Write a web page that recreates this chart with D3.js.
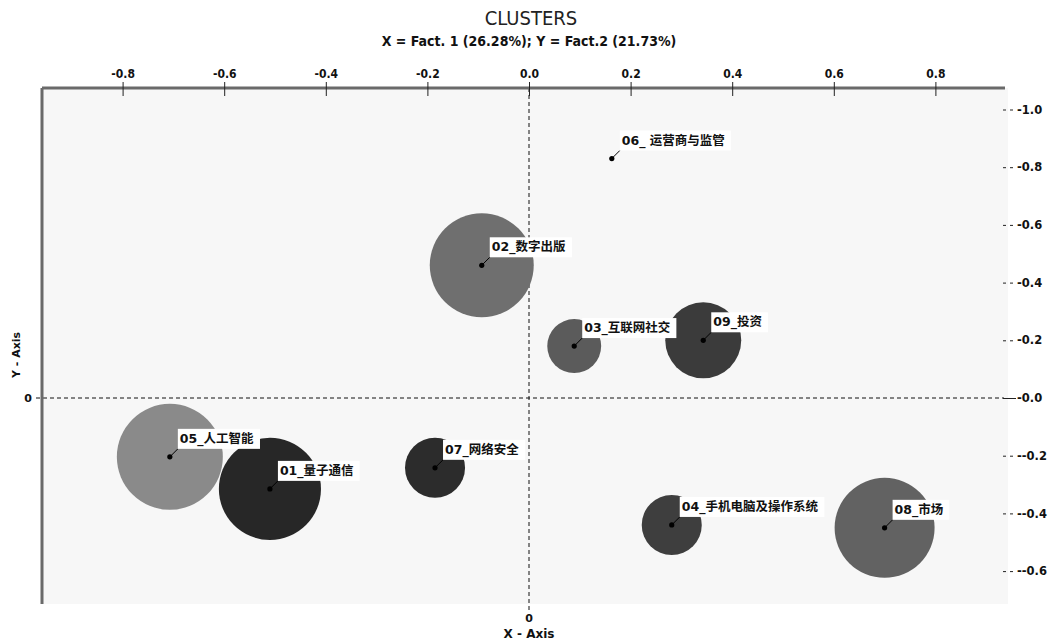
<!DOCTYPE html>
<html><head><meta charset="utf-8">
<script src="https://cdn.jsdelivr.net/npm/d3@7"></script>
<style>
body{margin:0;background:#fff;}
svg{display:block;}
</style></head>
<body>
<script>
// ---- data ----
const labels = ["01_量子通信","02_数字出版","03_互联网社交","04_手机电脑及操作系统","05_人工智能","06_ 运营商与监管","07_网络安全","08_市场","09_投资"];
const xValues = [-0.51, -0.093, 0.089, 0.281, -0.707, 0.163, -0.185, 0.700, 0.343];
const yValues = [-0.315, 0.460, 0.180, -0.440, -0.204, 0.830, -0.242, -0.450, 0.200];
const sizes   = [26.9, 27.9, 7.5, 9.3, 29, 0, 9.3, 25.8, 14.9];
const fills   = ["#272727","#6f6f6f","#5b5b5b","#3e3e3e","#8a8a8a","#000000","#2c2c2c","#626262","#3b3b3b"];
const xTicks = [-0.8,-0.6,-0.4,-0.2,0.0,0.2,0.4,0.6,0.8];
const xTickLabels = ["-0.8","-0.6","-0.4","-0.2","0.0","0.2","0.4","0.6","0.8"];
const yTicks = [1.0,0.8,0.6,0.4,0.2,0.0,-0.2,-0.4,-0.6];
const yTickLabels = ["-1.0","-0.8","-0.6","-0.4","-0.2","-0.0","--0.2","--0.4","--0.6"];
const title = "CLUSTERS";
const subtitle = "X = Fact. 1 (26.28%); Y = Fact.2 (21.73%)";

// ---- layout ----
const W = 1049, H = 644;
const x0 = 529, y0 = 398;
const x = d3.scaleLinear().domain([-1, 1]).range([x0 - 508, x0 + 508]);
const y = d3.scaleLinear().domain([-1, 1]).range([y0 + 288.5, y0 - 288.5]);
const r = d3.scaleSqrt().domain([0, 29]).range([0, 53]);
const plot = {left: 42, top: 88, right: 1008, bottom: 604};

const svg = d3.select("body").append("svg").attr("width", W).attr("height", H);
const condensed = "'DejaVu Sans Condensed','DejaVu Sans',sans-serif";
const bold = "'DejaVu Sans','Noto Sans CJK SC',sans-serif";

// background
svg.append("rect").attr("x", plot.left).attr("y", plot.top)
  .attr("width", plot.right - plot.left).attr("height", plot.bottom - plot.top)
  .attr("fill", "#f7f7f7");

// title
svg.append("text").attr("x", 531).attr("y", 25).attr("text-anchor", "middle")
  .attr("font-family", condensed).attr("font-size", 20).attr("fill", "#222").text(title);
svg.append("text").attr("x", 529).attr("y", 46).attr("text-anchor", "middle")
  .attr("font-family", condensed).attr("font-weight", "bold").attr("font-size", 14).attr("fill", "#111").text(subtitle);

// zero lines (dashed)
svg.append("line").attr("x1", 36).attr("x2", x(0.935)).attr("y1", y(0)).attr("y2", y(0))
  .attr("stroke", "#111").attr("stroke-width", 1).attr("stroke-dasharray", "4,3");
svg.append("line").attr("x1", x(0)).attr("x2", x(0)).attr("y1", plot.top).attr("y2", 613)
  .attr("stroke", "#111").attr("stroke-width", 1).attr("stroke-dasharray", "4,3");

// frame lines
svg.append("line").attr("x1", plot.left).attr("x2", 1005).attr("y1", plot.top).attr("y2", plot.top)
  .attr("stroke", "#6a6a6a").attr("stroke-width", 3);
svg.append("line").attr("x1", plot.left).attr("x2", plot.left).attr("y1", plot.top).attr("y2", plot.bottom)
  .attr("stroke", "#6a6a6a").attr("stroke-width", 3);

// top axis
const topAxis = d3.axisTop(x).tickValues(xTicks).tickSize(6)
  .tickFormat((d, i) => xTickLabels[i]);
const gTop = svg.append("g").attr("transform", `translate(0,${plot.top})`).call(topAxis);
gTop.select(".domain").remove();
gTop.selectAll(".tick line").attr("y1", 8).attr("y2", -6).attr("stroke", "#222");
gTop.selectAll(".tick text").attr("font-family", condensed).attr("font-weight", "bold")
  .attr("font-size", 12).attr("fill", "#111").attr("dy", "0").attr("y", -10);

// right axis
const rightAxis = d3.axisRight(y).tickValues(yTicks).tickSize(0)
  .tickFormat((d, i) => yTickLabels[i]);
const gRight = svg.append("g").attr("transform", `translate(1016,0)`).call(rightAxis);
gRight.select(".domain").remove();
gRight.selectAll(".tick text").attr("x", 1).attr("font-family", bold).attr("font-weight", "bold")
  .attr("font-size", 11.5).attr("fill", "#111");
gRight.selectAll(".tick").append("line").attr("x1", -13).attr("x2", 0)
  .attr("stroke", "#222").attr("stroke-dasharray", d => d === 0 ? null : "3,4");

// axis titles
svg.append("text").attr("transform", `translate(20,355) rotate(-90)`).attr("text-anchor", "middle")
  .attr("font-family", bold).attr("font-weight", "bold").attr("font-size", 11).attr("fill", "#111").text("Y - Axis");
svg.append("text").attr("x", 28).attr("y", y(0) + 4).attr("text-anchor", "middle")
  .attr("font-family", bold).attr("font-weight", "bold").attr("font-size", 11).attr("fill", "#111").text("0");
svg.append("text").attr("x", x(0)).attr("y", 622).attr("text-anchor", "middle")
  .attr("font-family", bold).attr("font-weight", "bold").attr("font-size", 11).attr("fill", "#111").text("0");
svg.append("text").attr("x", x(0)).attr("y", 638).attr("text-anchor", "middle")
  .attr("font-family", bold).attr("font-weight", "bold").attr("font-size", 12).attr("fill", "#111").text("X - Axis");

// bubbles
const data = labels.map((l, i) => ({label: l, x: xValues[i], y: yValues[i], s: sizes[i], fill: fills[i]}));
svg.append("g").selectAll("circle").data(data).join("circle")
  .attr("cx", d => x(d.x)).attr("cy", d => y(d.y)).attr("r", d => r(d.s))
  .attr("fill", d => d.fill);

// labels
const lg = svg.append("g").selectAll("g").data(data).join("g")
  .attr("transform", d => `translate(${x(d.x)},${y(d.y)})`);
lg.append("line").attr("x1", 0).attr("y1", 0).attr("x2", 8).attr("y2", -8)
  .attr("stroke", "#000").attr("stroke-width", 1);
lg.append("circle").attr("r", 2.6).attr("fill", "#000");
const txt = lg.append("text").attr("x", 10).attr("y", -14)
  .attr("font-family", bold).attr("font-weight", "bold").attr("font-size", 12.5).attr("fill", "#111")
  .text(d => d.label);
txt.each(function() {
  const b = this.getBBox();
  d3.select(this.parentNode).insert("rect", "text")
    .attr("x", 8).attr("y", -28).attr("width", b.width + 8).attr("height", 20).attr("fill", "#fff");
});
</script>
</body></html>
